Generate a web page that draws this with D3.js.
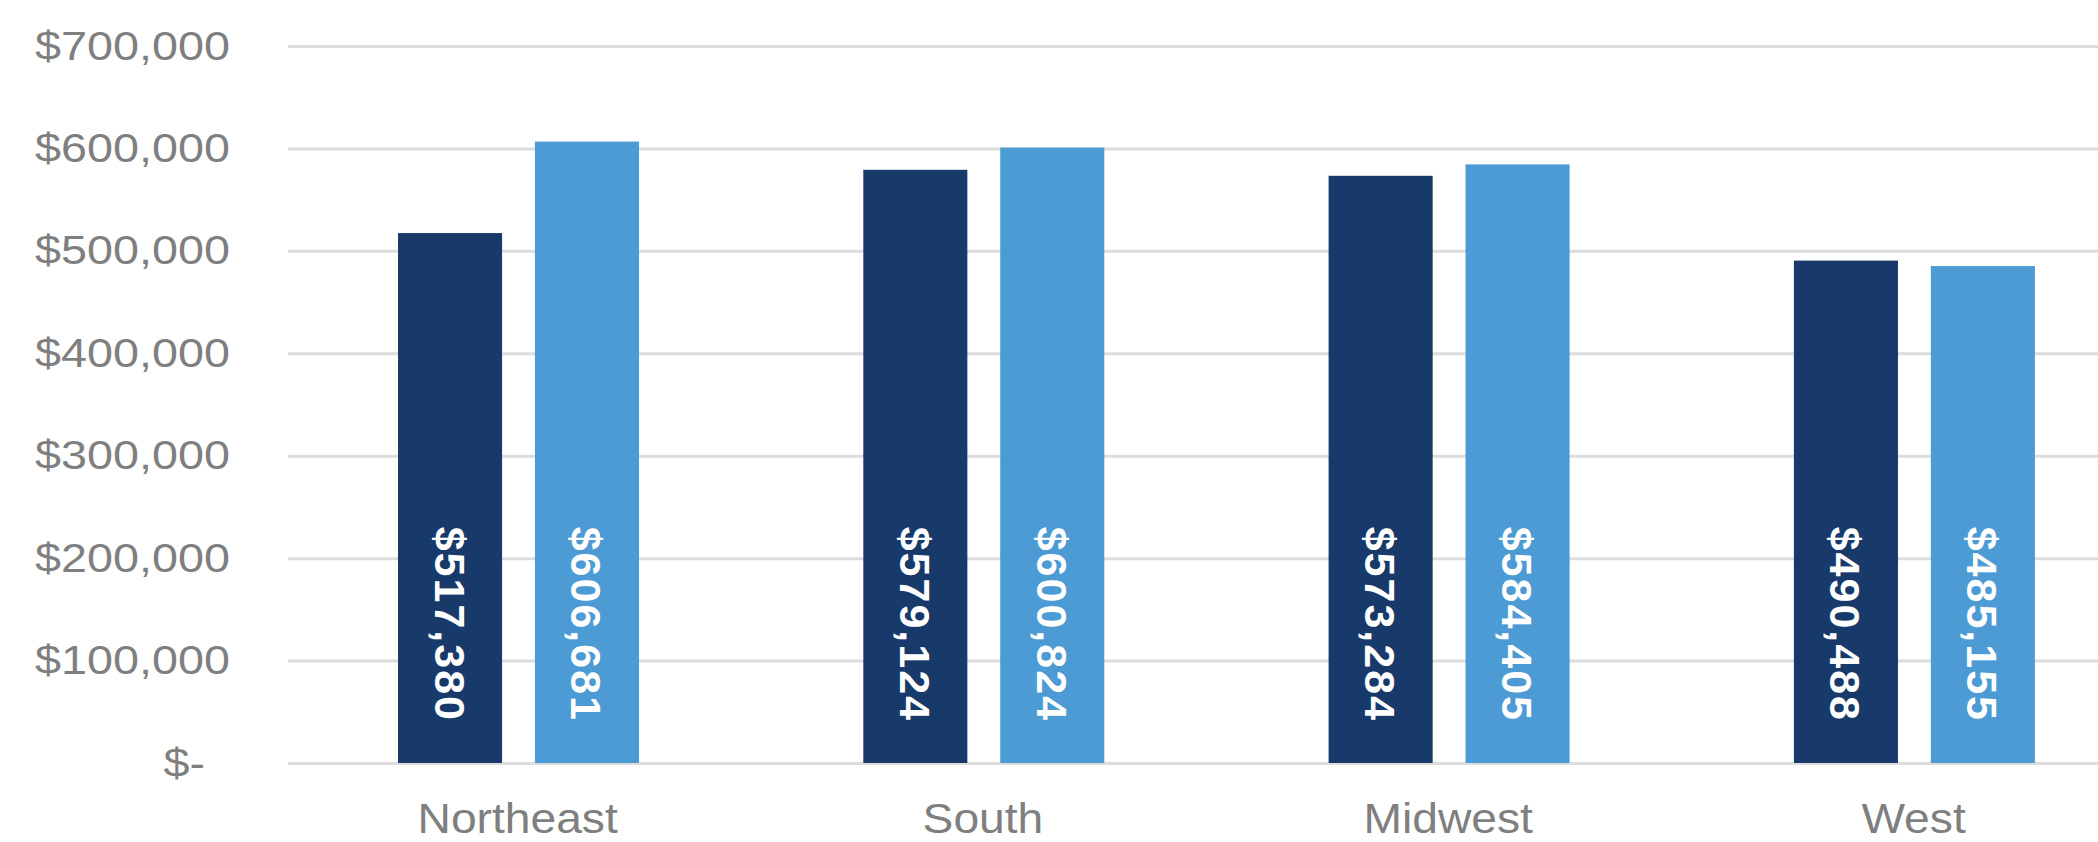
<!DOCTYPE html>
<html>
<head>
<meta charset="utf-8">
<script src="https://cdn.jsdelivr.net/npm/d3@7"></script>
<style>
  body { margin: 0; background: #fff; }
  svg { display: block; font-family: "Liberation Sans", Arial, sans-serif; }
</style>
</head>
<body>
<svg width="2098" height="842"></svg>
<script>
// data
let regions = ["Northeast", "South", "Midwest", "West"];
let seriesKeys = ["first", "second"];
let firstValues = [517380, 579124, 573284, 490488];
let secondValues = [606681, 600824, 584405, 485155];
let yTicks = [0, 100000, 200000, 300000, 400000, 500000, 600000, 700000];

let colors = d3.scaleOrdinal().domain(seriesKeys).range(["#173a6b", "#4d9bd4"]);

let svg = d3.select("svg");
let chartWidth = 2098;
let plotLeft = 288;
let plotTop = 46;
let plotBottom = 763;

let y = d3.scaleLinear().domain([0, 700000]).range([plotBottom, plotTop]);
let x0 = d3.scaleBand().domain(regions).range([286, 286 + 4 * 465.3]);
let x1 = d3.scaleBand().domain(seriesKeys).range([112, 353]).paddingInner(0.24);

let money = d3.format("$,");

// gridlines + y labels
let yAxis = svg.append("g")
  .attr("transform", "translate(" + plotLeft + ",0)")
  .call(d3.axisLeft(y)
    .tickValues(yTicks)
    .tickSize(-(chartWidth - plotLeft))
    .tickPadding(58)
    .tickFormat(function (d) { return d === 0 ? "$-" : money(d); }));

yAxis.select(".domain").remove();
yAxis.selectAll(".tick line").attr("stroke", "#dddddd").attr("stroke-width", 3);
yAxis.selectAll(".tick text")
  .attr("x", null)
  .attr("fill", "#7f7f7f")
  .style("font-size", "41px")
  .attr("transform", function (d) {
    let shift = d === 0 ? -83 : -58;
    return "translate(" + shift + ",0) scale(1.14,1)";
  });

// bars
let rows = regions.map(function (r, i) {
  return { region: r, values: [firstValues[i], secondValues[i]] };
});

let groups = svg.append("g")
  .selectAll("g")
  .data(rows)
  .enter()
  .append("g")
  .attr("transform", function (d) { return "translate(" + x0(d.region) + ",0)"; });

let cells = groups.selectAll("g")
  .data(function (d) {
    return seriesKeys.map(function (k, i) { return { key: k, value: d.values[i] }; });
  })
  .enter()
  .append("g");

cells.append("rect")
  .attr("x", function (d) { return x1(d.key); })
  .attr("width", x1.bandwidth())
  .attr("y", function (d) { return y(d.value); })
  .attr("height", function (d) { return y(0) - y(d.value); })
  .attr("fill", function (d) { return colors(d.key); });

cells.append("text")
  .attr("transform", function (d) {
    return "translate(" + (x1(d.key) + x1.bandwidth() / 2) + "," + (y(0) - 41) + ") rotate(90)";
  })
  .attr("text-anchor", "end")
  .attr("dy", "0.36em")
  .attr("fill", "#ffffff")
  .style("font-size", "43px")
  .style("font-weight", "bold")
  .style("letter-spacing", "2px")
  .text(function (d) { return money(d.value); });

// category labels
svg.append("g")
  .selectAll("text")
  .data(regions)
  .enter()
  .append("text")
  .attr("transform", function (d) {
    return "translate(" + (x0(d) + x0.bandwidth() / 2 - 1) + ",833) scale(1.1,1)";
  })
  .attr("text-anchor", "middle")
  .attr("fill", "#7f7f7f")
  .style("font-size", "42px")
  .text(function (d) { return d; });
</script>
</body>
</html>
